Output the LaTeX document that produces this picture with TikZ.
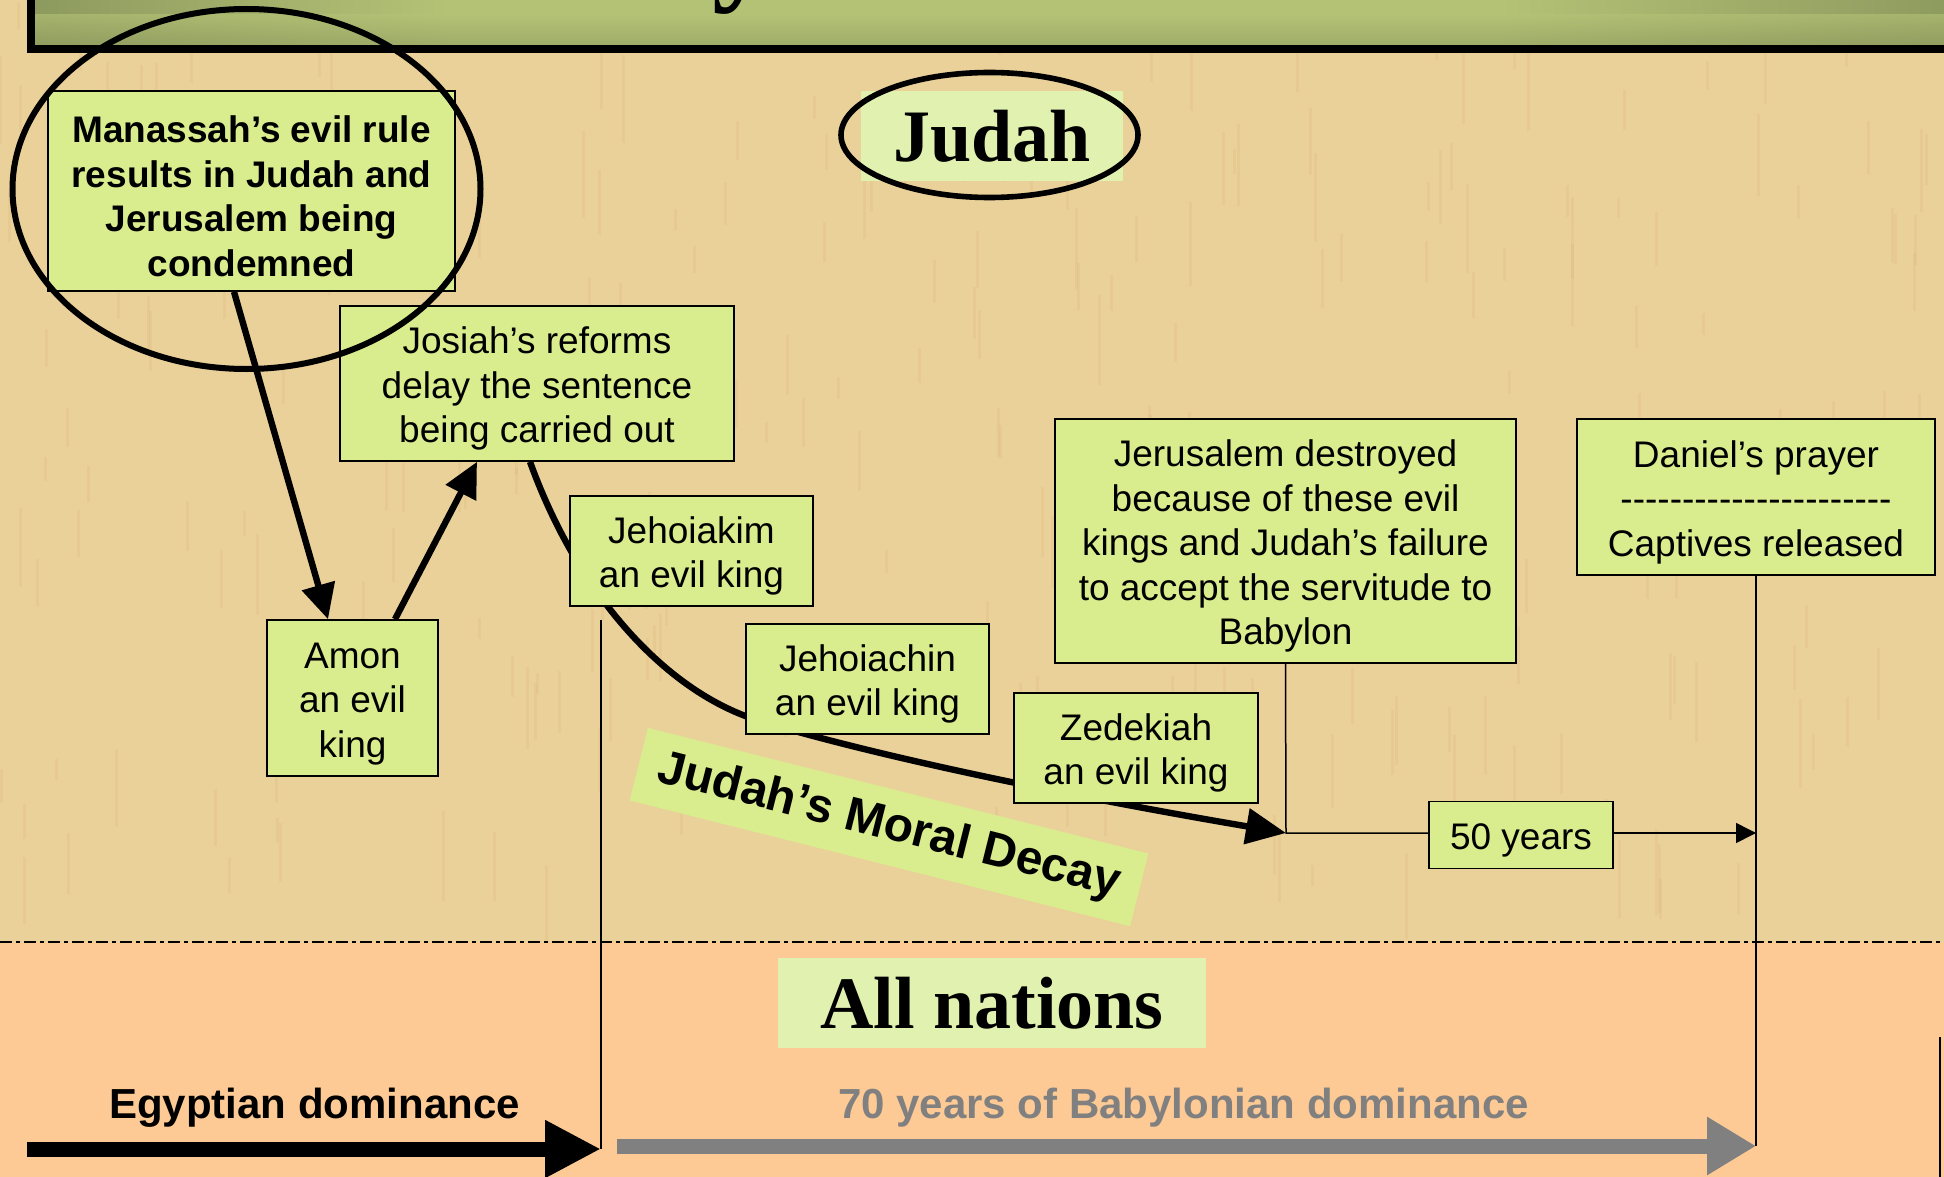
\documentclass[tikz,border=0pt]{standalone}
\usepackage{fontspec}
\setmainfont{Liberation Sans}
\newfontfamily\timesfont{Liberation Serif}
\usetikzlibrary{arrows.meta}
\definecolor{papyrus}{HTML}{EAD099}
\definecolor{fibre}{HTML}{D2B070}
\definecolor{peach}{HTML}{FDCA95}
\definecolor{boxgreen}{HTML}{D9EC8E}
\definecolor{labelgreen}{HTML}{E1F1AF}
\definecolor{bannerdark}{HTML}{8D9A5E}
\definecolor{bannerlight}{HTML}{B4C276}
\definecolor{babgray}{HTML}{808080}
\newcommand{\dashrow}{\foreach \i in {1,...,22}{\mbox{-}}}
\newcommand{\topstrut}{\rule{0pt}{18.5pt}}
\begin{document}
\begin{tikzpicture}[x=0.5pt,y=-0.5pt,
    kingbox/.style={draw,line width=0.8pt,fill=boxgreen,align=center,inner sep=0pt,
      font=\fontsize{18.5}{22.3}\selectfont},
    boldbox/.style={kingbox,font=\bfseries\fontsize{18.5}{22.3}\selectfont},
    thickarrow/.style={line width=3.2pt,-{Triangle[length=17.5pt,width=16.5pt]}},
    decayarrow/.style={line width=3.2pt,-{Triangle[length=20pt,width=17.5pt]}},
    thinline/.style={line width=0.75pt},
    thinarrow/.style={thinline,-{Triangle[length=10pt,width=10pt]}},
    bigtitle/.style={font=\timesfont\bfseries\fontsize{37}{40}\selectfont}]
  \clip (0,0) rectangle (1944,1177);
  % background: Judah above, all nations below
  \fill[papyrus] (0,0) rectangle (1944,942);
  \pgfmathsetseed{11}
  \foreach \i in {1,...,260}{
    \pgfmathsetmacro\fx{rnd*1944}
    \pgfmathsetmacro\fy{rnd*880}
    \draw[fibre,opacity=0.16,line width=1.5pt] (\fx,\fy) -- ++(0,20+rnd*70);
  }
  \fill[peach] (0,942) rectangle (1944,1177);
  \draw[line width=1pt,dash pattern=on 6pt off 2pt on 2pt off 2pt] (0,942) -- (1944,942);
  % title banner
  \shade[left color=bannerdark,right color=bannerlight] (31,-20) rectangle (450,49);
  \fill[bannerlight] (449,-20) rectangle (1501,49);
  \shade[left color=bannerlight,right color=bannerdark] (1500,-20) rectangle (1960,49);
  \shade[top color=bannerlight,bottom color=bannerdark,opacity=0.6] (31,15) rectangle (1960,49);
  \draw[line width=4pt] (31,-20) rectangle (1960,49);
  \node[font=\timesfont\bfseries\fontsize{60}{60}\selectfont,anchor=base] (title) at (742,-11) {y};

  \node[bigtitle,fill=labelgreen,inner sep=0pt,minimum width=131pt,minimum height=45pt] (judah) at (992,136) {Judah};
  \draw[line width=2.8pt] (989.5,135) ellipse [x radius=148.5,y radius=62.5];

  \node[boldbox,minimum width=203.5pt,minimum height=100pt] (manassah) at (251.5,191)
    {\topstrut Manassah’s evil rule\\results in Judah and\\Jerusalem being\\condemned};
  \node[kingbox,minimum width=197pt,minimum height=77.5pt] (josiah) at (537,383.5)
    {\topstrut Josiah’s reforms\\delay the sentence\\being carried out};
  \node[kingbox,minimum width=85.5pt,minimum height=78pt] (amon) at (352.5,698) {\topstrut Amon\\an evil\\king};

  \coordinate (decayend) at (1286,833);
  \draw[decayarrow] ([xshift=-3.5pt]josiah.south) .. controls (580,600) and (670,694) .. (760,721)
    .. controls (910,766) and (1136,807.5) .. (decayend);

  \node[kingbox,minimum width=121.5pt,minimum height=55pt] (jehoiakim) at (691.5,551) {\topstrut Jehoiakim\\an evil king};
  \node[kingbox,minimum width=121.5pt,minimum height=55pt] (jehoiachin) at (867.5,679) {\topstrut Jehoiachin\\an evil king};
  \node[kingbox,minimum width=122pt,minimum height=55pt] (zedekiah) at (1136,748) {\topstrut Zedekiah\\an evil king};
  \node[kingbox,minimum width=230.5pt,minimum height=122pt] (jerusalem) at (1285.5,541)
    {\topstrut Jerusalem destroyed\\because of these evil\\kings and Judah’s failure\\to accept the servitude to\\Babylon};
  \node[kingbox,minimum width=179pt,minimum height=78pt] (daniel) at (1756,497)
    {\topstrut Daniel’s prayer\\\dashrow\\Captives released};
  \node[kingbox,minimum width=92pt,minimum height=33.5pt] (fifty) at (1521,835) {\topstrut 50 years};

  \node[fill=boxgreen,rotate=-14.1,minimum width=258pt,minimum height=37.5pt,inner sep=0pt,
    font=\bfseries\fontsize{24}{28}\selectfont] (decay) at (889,827) {Judah’s Moral Decay};

  \draw[thickarrow] ([xshift=-8.75pt]manassah.south) -- ([xshift=-12.25pt]amon.north);
  \draw[thickarrow] ([xshift=21.25pt]amon.north) -- ([xshift=-30pt]josiah.south);

  % timeline
  \coordinate (splittop) at (601,620);
  \coordinate (egyptstart) at (27,1149);
  \coordinate (egyptend) at (601,1149);
  \coordinate (babstart) at (617,1146);
  \coordinate (babend) at (1756,1146);
  \draw[thinline] (jerusalem.south) -- (decayend) -- (decayend -| fifty.west);
  \draw[thinarrow] (fifty.east |- decayend) -- (decayend -| daniel.south);
  \draw[thinline] (daniel.south) -- (babend);
  \draw[thinline] (splittop) -- (egyptend);
  \draw[thinline] (1940,1037) -- (1940,1177);

  \node[bigtitle,fill=labelgreen,inner sep=0pt,minimum width=214pt,minimum height=45pt] (nations) at (992,1003) {All nations};
  \node[font=\bfseries\fontsize{21}{25}\selectfont,anchor=base] (egypt) at (314.5,1118) {Egyptian dominance};
  \node[font=\bfseries\fontsize{21}{25}\selectfont,anchor=base,text=babgray] (babylon) at (1183.5,1118) {70 years of Babylonian dominance};
  \draw[line width=7.5pt,-{Triangle[length=28pt,width=27pt]}] (egyptstart) -- (egyptend);
  \draw[babgray,line width=7.5pt,-{Triangle[length=24.5pt,width=27.5pt]}] (babstart) -- (babend);

  % highlight round Manassah
  \draw[line width=3pt] (246.5,189) ellipse [x radius=234,y radius=180];
\end{tikzpicture}
\end{document}
